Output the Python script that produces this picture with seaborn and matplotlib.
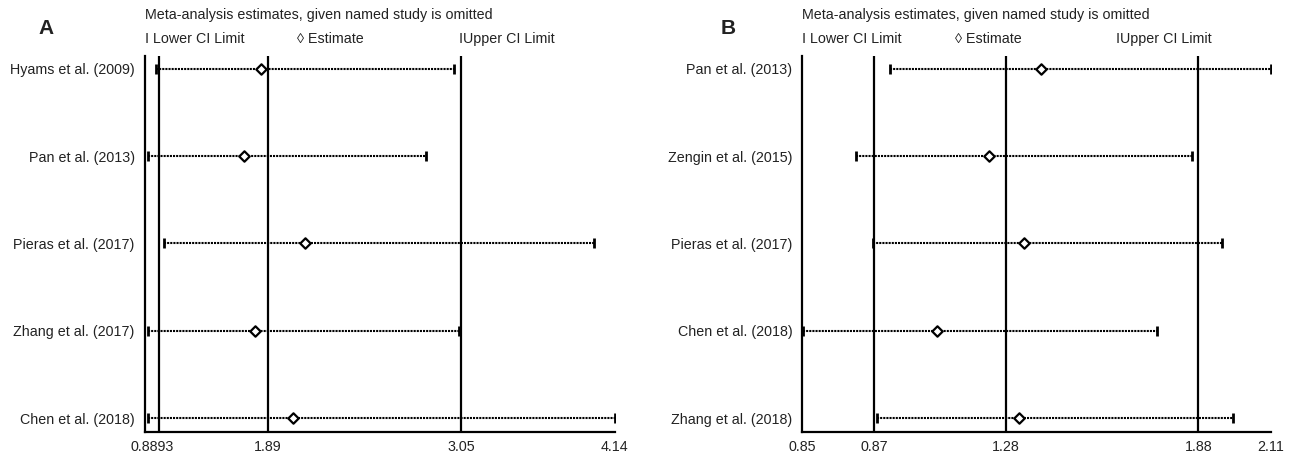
import numpy as np
import pandas as pd
import matplotlib
matplotlib.use("Agg")
import matplotlib.pyplot as plt
import seaborn as sns

# ---- data ----
studies_a = ["Hyams et al. (2009)", "Pan et al. (2013)", "Pieras et al. (2017)",
             "Zhang et al. (2017)", "Chen et al. (2018)"]
est_a = [1.687, 1.569, 1.996, 1.645, 1.908]
lo_a = [0.959, 0.906, 1.014, 0.904, 0.906]
hi_a = [3.027, 2.835, 3.995, 3.063, 4.14]
ref_a = [0.984, 1.735, 3.075]          # lower CI, estimate, upper CI
xlim_a = [0.88, 4.14]
ticks_a = [0.88, 0.984, 1.735, 3.075, 4.14]
ticklabels_a = ["", "", "1.89", "3.05", "4.14"]
minor_label_a = "0.8893"

studies_b = ["Pan et al. (2013)", "Zengin et al. (2015)", "Pieras et al. (2017)",
             "Chen et al. (2018)", "Zhang et al. (2018)"]
est_b = [1.4925, 1.352, 1.445, 1.212, 1.433]
lo_b = [1.086, 0.9935, 1.040, 0.853, 1.051]
hi_b = [2.11, 1.898, 1.977, 1.804, 2.008]
ref_b = [1.0436, 1.397, 1.9145]
xlim_b = [0.85, 2.11]
ticks_b = [0.85, 1.0436, 1.397, 1.9145, 2.11]
ticklabels_b = ["0.85", "0.87", "1.28", "1.88", "2.11"]

title = "Meta-analysis estimates, given named study is omitted"
legend_items = ["I Lower CI Limit", "\u25ca Estimate", "IUpper CI Limit"]

sns.set_theme(style="white")
plt.rcParams["font.family"] = ["Liberation Sans Narrow", "Liberation Sans", "DejaVu Sans"]
FS = 10.3

fig = plt.figure(figsize=(12.96, 4.58), dpi=100)
ax_a = fig.add_axes([0.1115, 0.0568, 0.3627, 0.821])
ax_b = fig.add_axes([0.619, 0.0568, 0.3617, 0.821])


def draw_panel(ax, studies, est, lo, hi, ref, xlim, ticks, ticklabels, letter, letter_x):
    rows = np.arange(1, len(studies) + 1)
    df = pd.DataFrame({"study": studies, "est": est, "lo": lo, "hi": hi, "row": rows})

    for r in ref:
        ax.axvline(r, color="black", lw=1.6, zorder=1)

    ax.hlines(df["row"], df["lo"], df["hi"], color="black", lw=1.5,
              linestyles=(0, (1.0, 0.5)), zorder=2)
    ax.plot(df["lo"], df["row"], ls="none", marker="|", ms=7, mew=2, color="black", zorder=3)
    ax.plot(df["hi"], df["row"], ls="none", marker="|", ms=7, mew=2, color="black", zorder=3)
    sns.scatterplot(data=df, x="est", y="row", marker="D", s=28, color="white",
                    edgecolor="black", linewidth=1.6, zorder=5, ax=ax)

    ax.set_xlim(xlim)
    ax.set_ylim(5.16, 0.851)
    ax.set_yticks(rows, labels=studies)
    ax.set_xticks(ticks, labels=ticklabels)
    ax.set_xlabel("")
    ax.set_ylabel("")
    ax.tick_params(axis="y", length=0, pad=7, labelsize=FS, colors="#222222")
    ax.tick_params(axis="x", direction="in", length=4, width=1.5, pad=5.5,
                   labelsize=FS, colors="black", labelcolor="#222222")
    for side in ["top", "right"]:
        ax.spines[side].set_visible(False)
    for side in ["left", "bottom"]:
        ax.spines[side].set_color("black")
        ax.spines[side].set_linewidth(1.6)

    ax.text(0.0, 1.108, title, transform=ax.transAxes, ha="left", va="center",
            fontsize=FS, color="#222222")
    for xpos, item in zip([0.0, 0.325, 0.67], legend_items):
        ax.text(xpos, 1.045, item, transform=ax.transAxes, ha="left", va="center",
                fontsize=FS, color="#222222")
    fig.text(letter_x, 0.937, letter, ha="center", va="center", fontsize=15,
             fontweight="bold", color="#222222")


draw_panel(ax_a, studies_a, est_a, lo_a, hi_a, ref_a, xlim_a, ticks_a, ticklabels_a, "A", 0.0355)
draw_panel(ax_b, studies_b, est_b, lo_b, hi_b, ref_b, xlim_b, ticks_b, ticklabels_b, "B", 0.562)

# the combined "0.8893" label sits between the axis start and the lower CI line
ax_a.set_xticks([(xlim_a[0] + ref_a[0]) / 2], labels=[minor_label_a], minor=True)
ax_a.tick_params(axis="x", which="minor", length=0, pad=5.5, labelsize=FS, labelcolor="#222222")

fig.savefig("out.png", dpi=100)
